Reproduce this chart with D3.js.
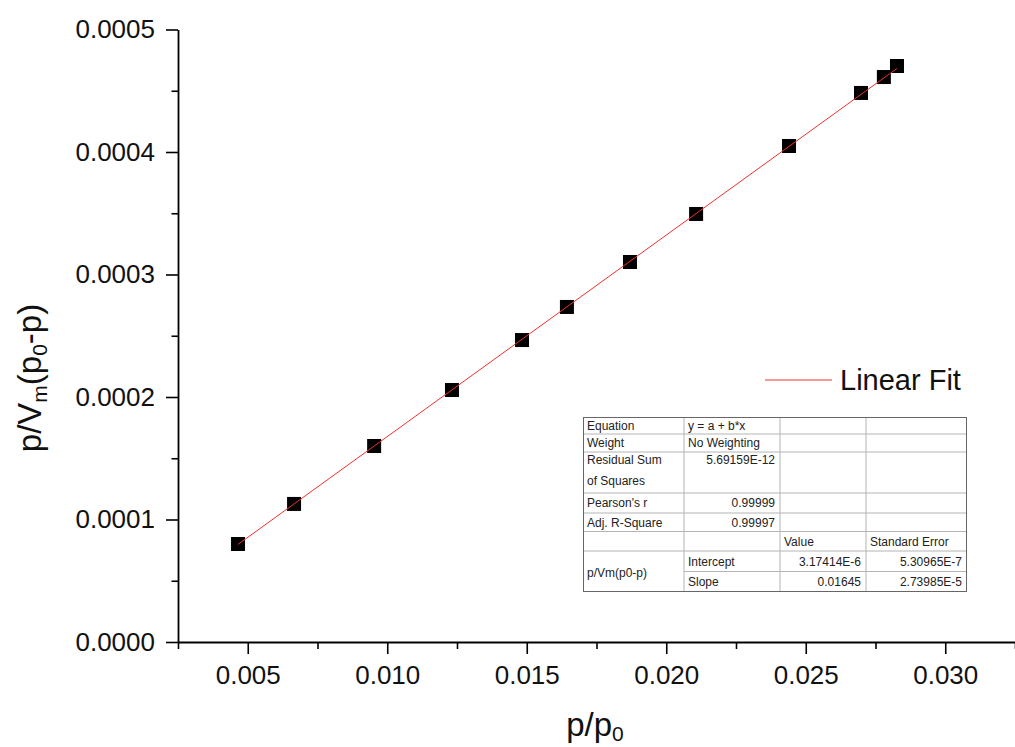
<!DOCTYPE html>
<html>
<head>
<meta charset="utf-8">
<script src="https://cdn.jsdelivr.net/npm/d3@7"></script>
<style>
  body { margin: 0; background: #fff; }
  text { font-family: "Liberation Sans", Arial, sans-serif; }
</style>
</head>
<body>
<div id="plot"></div>
<script>
// Data
const relPressure = [0.00465, 0.00666, 0.00953, 0.01232, 0.01483, 0.01644, 0.0187, 0.02107, 0.0244, 0.02698, 0.0278, 0.02827];
const bet = [0.0000800, 0.0001127, 0.0001600, 0.0002057, 0.0002465, 0.0002735, 0.0003102, 0.0003494, 0.0004049, 0.0004482, 0.0004612, 0.0004702];

// fit parameters (from the table)
const intercept = 3.17414e-6;
const slope = 0.01645;

const xTicks = [0.005, 0.010, 0.015, 0.020, 0.025, 0.030];
const xMinor = [0.0025, 0.0075, 0.0125, 0.0175, 0.0225, 0.0275, 0.0325];
const yTicks = [0, 0.0001, 0.0002, 0.0003, 0.0004, 0.0005];
const yMinor = [0.00005, 0.00015, 0.00025, 0.00035, 0.00045];

const tableRows = [
  ["Equation", "y = a + b*x", "", ""],
  ["Weight", "No Weighting", "", ""],
  ["Residual Sum|of Squares", "5.69159E-12", "", ""],
  ["Pearson's r", "0.99999", "", ""],
  ["Adj. R-Square", "0.99997", "", ""],
  ["", "", "Value", "Standard Error"],
  ["p/Vm(p0-p)", "Intercept", "3.17414E-6", "5.30965E-7"],
  [null, "Slope", "0.01645", "2.73985E-5"]
];

const W = 1015, H = 747;
const svg = d3.select("#plot")
  .append("svg")
    .attr("width", W)
    .attr("height", H);

const x = d3.scaleLinear()
  .domain([0.0025, 0.0325])
  .range([178, 1015]);
const y = d3.scaleLinear()
  .domain([0, 0.0005])
  .range([642, 29.5]);

// X axis
const xAxis = svg.append("g")
  .attr("transform", `translate(0,${y(0)})`);
xAxis.call(d3.axisBottom(x).tickValues(xMinor).tickSize(7).tickSizeOuter(0).tickFormat(""));
xAxis.append("g").call(d3.axisBottom(x).tickValues(xTicks).tickSize(12).tickSizeOuter(0)
    .tickPadding(12).tickFormat(d3.format(".3f")))
  .call(g => g.select(".domain").remove());

// Y axis
const yAxis = svg.append("g")
  .attr("transform", `translate(${x(0.0025)},0)`);
yAxis.call(d3.axisLeft(y).tickValues(yMinor).tickSize(6.5).tickSizeOuter(0).tickFormat(""));
yAxis.append("g").call(d3.axisLeft(y).tickValues(yTicks).tickSize(12).tickSizeOuter(0)
    .tickPadding(11).tickFormat(d3.format(".4f")))
  .call(g => g.select(".domain").remove());

svg.selectAll(".domain").attr("stroke", "#000").attr("stroke-width", 1.8);
svg.selectAll(".tick line").attr("stroke", "#000").attr("stroke-width", 1.6);
svg.selectAll(".tick text")
  .attr("font-size", 26)
  .attr("fill", "#111")
  .style("font-family", "'Liberation Sans', Arial, sans-serif");

// Points
svg.selectAll("rect.pt")
  .data(relPressure)
  .join("rect")
    .attr("class", "pt")
    .attr("x", d => x(d) - 7)
    .attr("y", (d, i) => y(bet[i]) - 7)
    .attr("width", 14)
    .attr("height", 14)
    .attr("fill", "#000");

// Linear fit line
const xr = d3.extent(relPressure);
svg.append("line")
  .attr("x1", x(xr[0]))
  .attr("y1", y(intercept + slope * xr[0]))
  .attr("x2", x(xr[1]))
  .attr("y2", y(intercept + slope * xr[1]))
  .attr("stroke", "#f03030")
  .attr("stroke-width", 1);

// Axis titles
const xt = svg.append("text")
  .attr("x", 595)
  .attr("y", 736)
  .attr("text-anchor", "middle")
  .attr("font-size", 33)
  .attr("fill", "#111");
xt.append("tspan").text("p/p");
xt.append("tspan").attr("font-size", 21).attr("dy", 5).text("0");

const yt = svg.append("text")
  .attr("transform", "translate(41,378) rotate(-90)")
  .attr("text-anchor", "middle")
  .attr("font-size", 33)
  .attr("fill", "#111");
yt.append("tspan").text("p/V");
yt.append("tspan").attr("font-size", 21).attr("dy", 6).text("m");
yt.append("tspan").attr("dy", -6).text("(p");
yt.append("tspan").attr("font-size", 21).attr("dy", 6).text("0");
yt.append("tspan").attr("dy", -6).text("-p)");

// Legend
svg.append("line")
  .attr("x1", 765).attr("x2", 832)
  .attr("y1", 380).attr("y2", 380)
  .attr("stroke", "#f03030")
  .attr("stroke-width", 1);
svg.append("text")
  .attr("x", 840)
  .attr("y", 390)
  .attr("font-size", 29)
  .attr("fill", "#111")
  .text("Linear Fit");

// Results table
const colX = [583, 684, 780, 866, 967];
const rowH = [17, 18, 41, 20, 18.5, 19.5, 20.5, 20.5];
const top0 = 417;
const rowY = [top0];
rowH.forEach(h => rowY.push(rowY[rowY.length - 1] + h));

const tbl = svg.append("g");
tbl.append("rect")
  .attr("x", colX[0]).attr("y", top0)
  .attr("width", colX[4] - colX[0])
  .attr("height", rowY[rowY.length - 1] - top0)
  .attr("fill", "#fff");

// horizontal grid lines
rowY.slice(1, -1).forEach((yy, i) => {
  const startCol = (i + 1 === 7) ? 1 : 0; // merged cell in last two rows
  tbl.append("line")
    .attr("x1", colX[startCol]).attr("x2", colX[4])
    .attr("y1", yy).attr("y2", yy)
    .attr("stroke", "#b4b4b4").attr("stroke-width", 1);
});
// vertical grid lines
colX.slice(1, -1).forEach(xx => {
  tbl.append("line")
    .attr("x1", xx).attr("x2", xx)
    .attr("y1", top0).attr("y2", rowY[rowY.length - 1])
    .attr("stroke", "#b4b4b4").attr("stroke-width", 1);
});
tbl.append("rect")
  .attr("x", colX[0] + 0.5).attr("y", top0 + 0.5)
  .attr("width", colX[4] - colX[0] - 1)
  .attr("height", rowY[rowY.length - 1] - top0 - 1)
  .attr("fill", "none")
  .attr("stroke", "#666").attr("stroke-width", 1);

const isNum = s => /^[0-9.\-E]+$/.test(s);
tableRows.forEach((row, r) => {
  row.forEach((cell, c) => {
    if (!cell) return;
    const lines = cell.split("|");
    let ty;
    if (r === 6 && c === 0) ty = (rowY[6] + rowY[8]) / 2 + 5.5;
    else if (r === 2) ty = rowY[r] + 11.5;
    else ty = rowY[r] + rowH[r] / 2 + 4.3;
    const right = isNum(cell);
    const t = tbl.append("text")
      .attr("x", right ? colX[c + 1] - 5 : colX[c] + 4)
      .attr("y", ty)
      .attr("text-anchor", right ? "end" : "start")
      .attr("font-size", 12)
      .attr("fill", "#222");
    lines.forEach((ln, k) => {
      t.append("tspan")
        .attr("x", right ? colX[c + 1] - 5 : colX[c] + 4)
        .attr("dy", k === 0 ? 0 : 21)
        .text(ln);
    });
  });
});
</script>
</body>
</html>
